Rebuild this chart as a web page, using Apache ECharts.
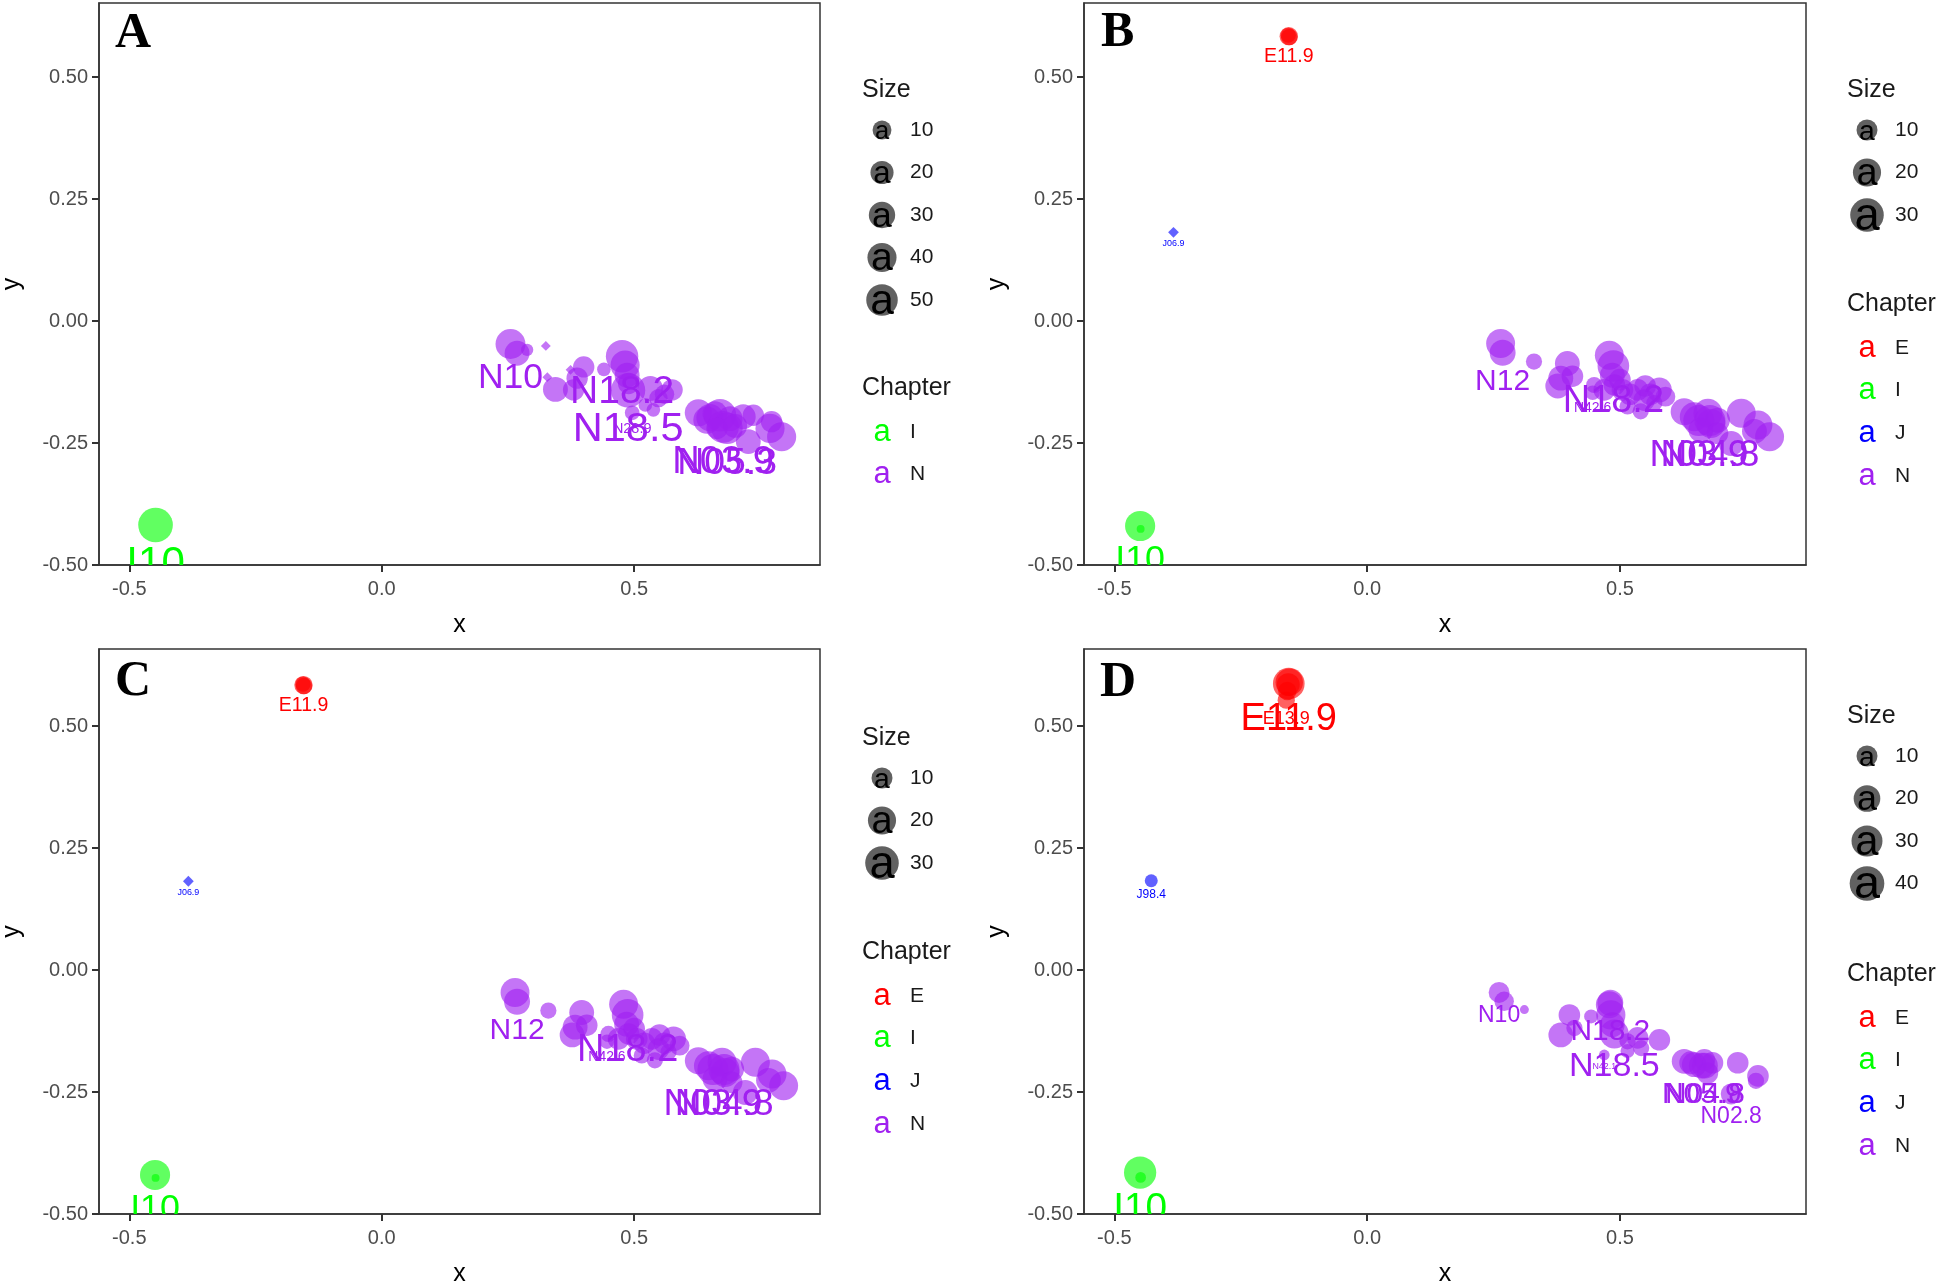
<!DOCTYPE html>
<html><head><meta charset="utf-8">
<script src="https://cdn.jsdelivr.net/npm/echarts@6/dist/echarts.min.js"></script>
<style>html,body{margin:0;padding:0;background:#fff;overflow:hidden}#c{width:1946px;height:1283px}</style>
</head><body><div id="c"></div>
<script>
// ---- data: [x, y, size, shape ('c' circle / 'd' diamond), label] ----
const A_I = [[-0.448,-0.418,60,'c','I10']];
const A_N = [
 [0.255,-0.047,40,'c','N10'],[0.268,-0.066,23,'c',''],[0.288,-0.059,1,'c',''],
 [0.325,-0.051,1,'d',''],[0.328,-0.115,1,'d',''],[0.344,-0.140,23,'c',''],
 [0.400,-0.094,14,'c',''],[0.374,-0.100,1,'d',''],[0.387,-0.117,14,'c',''],
 [0.380,-0.141,14,'c',''],[0.440,-0.099,2,'c',''],[0.476,-0.072,50,'c','N18.2'],
 [0.482,-0.090,37,'c',''],[0.486,-0.111,23,'c',''],[0.489,-0.128,14,'c',''],
 [0.488,-0.142,58,'c','N18.5'],[0.496,-0.188,3,'c','N28.9'],[0.532,-0.138,23,'c',''],
 [0.575,-0.141,14,'c',''],[0.548,-0.158,8,'c',''],[0.522,-0.172,2,'c',''],
 [0.538,-0.182,2,'c',''],[0.627,-0.188,30,'c',''],[0.644,-0.203,30,'c',''],
 [0.650,-0.198,30,'c',''],[0.660,-0.190,23,'c',''],[0.690,-0.200,23,'c',''],
 [0.670,-0.193,50,'c',''],[0.676,-0.217,47,'c','N03.9'],[0.684,-0.220,45,'c','N05.3'],
 [0.664,-0.220,14,'c',''],[0.716,-0.196,23,'c',''],[0.736,-0.193,14,'c',''],
 [0.726,-0.247,23,'c',''],[0.769,-0.220,37,'c',''],[0.792,-0.237,37,'c',''],
 [0.772,-0.206,14,'c',''],[0.560,-0.150,10,'c',''],[0.700,-0.215,20,'c','']
];
const B_E = [[-0.155,0.584,6.7,'c','E11.9'],[-0.156,0.586,4,'c',''],[-0.154,0.582,5,'c','']];
const B_I = [[-0.449,-0.420,22,'c','I10'],[-0.448,-0.426,0.5,'c','']];
const B_J = [[-0.383,0.182,2.9,'d','J06.9']];
const B_N = [
 [0.264,-0.046,20,'c',''],[0.268,-0.065,15.5,'c','N12'],[0.330,-0.083,4.8,'c',''],
 [0.396,-0.087,14,'c',''],[0.383,-0.117,14,'c',''],[0.377,-0.133,14,'c',''],
 [0.406,-0.113,10,'c',''],[0.449,-0.131,4.8,'c',''],[0.479,-0.070,20,'c',''],
 [0.487,-0.092,24.6,'c','N18.2'],[0.485,-0.111,14,'c',''],[0.489,-0.131,10,'c',''],
 [0.469,-0.141,10,'c',''],[0.446,-0.147,3.5,'c','N42.6'],[0.505,-0.141,10,'c',''],
 [0.535,-0.141,10,'c',''],[0.578,-0.141,14,'c',''],[0.548,-0.162,10,'c',''],
 [0.568,-0.168,4.8,'c',''],[0.515,-0.175,4.8,'c',''],[0.541,-0.185,4.8,'c',''],
 [0.520,-0.150,10,'c',''],[0.560,-0.150,10,'c',''],[0.550,-0.133,10,'c',''],
 [0.590,-0.155,8,'c',''],[0.500,-0.120,10,'c',''],
 [0.627,-0.186,17,'c',''],[0.647,-0.196,20,'c',''],[0.674,-0.189,20,'c',''],
 [0.680,-0.210,20,'c',''],[0.693,-0.203,14,'c',''],[0.660,-0.223,14,'c',''],
 [0.656,-0.204,23.5,'c','N03.9'],[0.678,-0.204,23.5,'c','N04.8'],[0.740,-0.189,20,'c',''],
 [0.720,-0.251,14,'c',''],[0.773,-0.213,20,'c',''],[0.796,-0.237,20,'c',''],
 [0.766,-0.226,14,'c',''],[0.693,-0.230,10,'c','']
];
const C_E = [[-0.155,0.584,6.7,'c','E11.9'],[-0.156,0.586,4,'c',''],[-0.154,0.582,5,'c','']];
const C_I = [[-0.449,-0.420,22,'c','I10'],[-0.448,-0.426,0.5,'c','']];
const C_J = [[-0.383,0.182,2.9,'d','J06.9']];
const C_N = B_N.map(p => p.slice());
const D_E = [[-0.155,0.587,29.5,'c','E11.9'],[-0.160,0.553,4.8,'c','E13.9'],[-0.158,0.572,6,'c',''],
 [-0.154,0.590,20,'c',''],[-0.156,0.585,12,'c','']];
const D_I = [[-0.449,-0.415,31,'c','I10'],[-0.448,-0.425,0.5,'c','']];
const D_J = [[-0.427,0.183,1.5,'c','J98.4']];
const D_N = [
 [0.261,-0.046,9,'c','N10'],[0.271,-0.064,7.2,'c',''],[0.311,-0.081,0.1,'c',''],
 [0.400,-0.092,10,'c',''],[0.383,-0.133,15,'c',''],[0.410,-0.119,3.8,'c',''],
 [0.443,-0.095,2.1,'c',''],[0.479,-0.071,19,'c',''],[0.481,-0.067,17,'c','N18.2'],
 [0.482,-0.092,23.7,'c',''],[0.485,-0.112,15,'c',''],[0.489,-0.131,23,'c','N18.5'],
 [0.515,-0.146,3.8,'c',''],[0.535,-0.139,10,'c',''],[0.578,-0.143,10,'c',''],
 [0.542,-0.160,3.8,'c',''],[0.515,-0.166,2.1,'c',''],[0.469,-0.174,0.5,'c','N42.1'],
 [0.627,-0.187,15,'c',''],[0.647,-0.194,15,'c',''],[0.667,-0.184,10,'c',''],
 [0.683,-0.190,10,'c',''],[0.673,-0.211,10,'c',''],[0.662,-0.196,17,'c','N05.9'],
 [0.668,-0.196,17,'c','N04.8'],[0.733,-0.190,10,'c',''],[0.773,-0.217,10,'c',''],
 [0.769,-0.227,3.8,'c',''],[0.720,-0.254,9,'c','N02.8'],[0.640,-0.190,12,'c','']
];
const A_sizeBreaks = [10,20,30,40,50];
const B_sizeBreaks = [10,20,30];
const C_sizeBreaks = [10,20,30];
const D_sizeBreaks = [10,20,30,40];
const xTicks = [-0.5, 0, 0.5];
const yTicks = [-0.5, -0.25, 0, 0.25, 0.5];
const chapterColors = {E:'#FF0000', I:'#00FF00', J:'#0000FF', N:'#A020F0'};

// ---- layout ----
const FONT = "'Liberation Sans', Arial, sans-serif";
const BUBBLE_SCALE = 1.08;
const panels = [
 {letter:'A', data:{I:A_I, N:A_N}, breaks:A_sizeBreaks, grid:{left:99,top:3,width:721,height:562}, ymax:0.652, sa:8.3, sb:3.07, leg:{x:862, sizeTitle:90, chapTitle:388}, lx:115, ly:34},
 {letter:'B', data:{E:B_E, I:B_I, J:B_J, N:B_N}, breaks:B_sizeBreaks, grid:{left:1084,top:3,width:722,height:562}, ymax:0.652, sa:3.65, sb:5.17, leg:{x:1847, sizeTitle:90, chapTitle:304}, lx:1101, ly:33},
 {letter:'C', data:{E:C_E, I:C_I, J:C_J, N:C_N}, breaks:C_sizeBreaks, grid:{left:99,top:649,width:721,height:565}, ymax:0.658, sa:3.65, sb:5.17, leg:{x:862, sizeTitle:738, chapTitle:952}, lx:115, ly:682},
 {letter:'D', data:{E:D_E, I:D_I, J:D_J, N:D_N}, breaks:D_sizeBreaks, grid:{left:1084,top:649,width:722,height:565}, ymax:0.658, sa:7, sb:4.11, leg:{x:1847, sizeTitle:716, chapTitle:974}, lx:1100, ly:683}
];
function diam(p, s) { return p.sa + p.sb * Math.sqrt(s); }
function labelFont(d) { return Math.max(6, 1.5 * d - 6); }

const option = {animation:false, backgroundColor:'#fff', grid:[], xAxis:[], yAxis:[], series:[], graphic:[]};
const axisLineStyle = {color:'#333', width:1.5};
const tickStyle = {color:'#333', width:2};

panels.forEach((p, i) => {
  option.grid.push(Object.assign({show:true, borderColor:'#333', borderWidth:1.5, backgroundColor:'#fff', containLabel:false, outerBoundsMode:'none'}, p.grid));
  option.xAxis.push({gridIndex:i, type:'value', min:-0.56, max:0.868,
    name:'x', nameLocation:'middle', nameGap:48, nameTextStyle:{fontSize:25, color:'#000', fontFamily:FONT},
    axisLine:{show:true, onZero:false, lineStyle:axisLineStyle}, splitLine:{show:false},
    axisTick:{show:true, inside:false, length:7, customValues:xTicks, lineStyle:tickStyle},
    axisLabel:{customValues:xTicks, formatter:v=>Number(v).toFixed(1), fontSize:20, color:'#4D4D4D', margin:14, fontFamily:FONT}});
  option.yAxis.push({gridIndex:i, type:'value', min:-0.5, max:p.ymax,
    name:'y', nameLocation:'middle', nameGap:74, nameTextStyle:{fontSize:25, color:'#000', fontFamily:FONT},
    axisLine:{show:true, onZero:false, lineStyle:axisLineStyle}, splitLine:{show:false},
    axisTick:{show:true, inside:false, length:7, customValues:yTicks, lineStyle:tickStyle},
    axisLabel:{customValues:yTicks, formatter:v=>Number(v).toFixed(2), fontSize:20, color:'#4D4D4D', margin:11, fontFamily:FONT}});

  Object.keys(p.data).forEach(ch => {
    const arr = p.data[ch];
    // bubbles
    option.series.push({type:'scatter', xAxisIndex:i, yAxisIndex:i, z:3, silent:true,
      data: arr.map(r => [r[0], r[1], r[2], r[3]==='d'?1:0]),
      symbol: v => v[3] ? 'diamond' : 'circle',
      symbolSize: v => diam(p, v[2]) * (v[3] ? 0.8 : 1) * BUBBLE_SCALE,
      itemStyle:{color:chapterColors[ch], opacity:0.62}, emphasis:{disabled:true}});
    // labels (drawn beneath bubbles, clipped to panel)
    const lab = arr.filter(r => r[4]);
    if (lab.length) {
      const names = lab.map(r => r[4]);
      option.series.push({type:'custom', xAxisIndex:i, yAxisIndex:i, z:2, clip:true, silent:true,
        data: lab.map(r => [r[0], r[1], r[2], r[3]==='d'?1:0]),
        encode:{x:0, y:1},
        renderItem:(params, api) => {
          const pt = api.coord([api.value(0), api.value(1)]);
          const d = diam(p, api.value(2)) * (api.value(3) ? 0.8 : 1);
          return {type:'text', x:pt[0], y:pt[1] + d/2 + 2,
            style:{text:names[params.dataIndex], fill:chapterColors[ch], fontSize:labelFont(d), fontFamily:FONT, align:'center', verticalAlign:'top'}};
        }});
    }
  });

  // panel letter
  option.graphic.push({type:'text', x:p.lx, y:p.ly, z:10, style:{text:p.letter, font:'bold 50px "Liberation Serif", "Times New Roman", serif', fill:'#000', verticalAlign:'middle'}});
  // legends
  const L = p.leg;
  option.graphic.push({type:'text', x:L.x, y:L.sizeTitle, style:{text:'Size', fontSize:25, fontFamily:FONT, fill:'#1a1a1a', verticalAlign:'middle'}});
  p.breaks.forEach((b, k) => {
    const y = L.sizeTitle + 40 + k * 42.5;
    const d = diam(p, b) * 1.05;
    option.graphic.push({type:'circle', shape:{cx:L.x + 20, cy:y, r:d/2}, style:{fill:'rgba(0,0,0,0.62)'}});
    option.graphic.push({type:'text', x:L.x + 20, y:y + 2, style:{text:'a', fontSize:1.35*d, fontFamily:FONT, fill:'#000', align:'center', verticalAlign:'middle'}});
    option.graphic.push({type:'text', x:L.x + 48, y:y, style:{text:String(b), fontSize:21, fontFamily:FONT, fill:'#1a1a1a', verticalAlign:'middle'}});
  });
  option.graphic.push({type:'text', x:L.x, y:L.chapTitle, style:{text:'Chapter', fontSize:25, fontFamily:FONT, fill:'#1a1a1a', verticalAlign:'middle'}});
  Object.keys(p.data).forEach((ch, k) => {
    const y = L.chapTitle + 44 + k * 42.7;
    option.graphic.push({type:'text', x:L.x + 20, y:y, style:{text:'a', fontSize:31, fontFamily:FONT, fill:chapterColors[ch], align:'center', verticalAlign:'middle'}});
    option.graphic.push({type:'text', x:L.x + 48, y:y, style:{text:ch, fontSize:21, fontFamily:FONT, fill:'#1a1a1a', verticalAlign:'middle'}});
  });
});

const chart = echarts.init(document.getElementById('c'), null, {renderer:'canvas'});
chart.setOption(option);
</script></body></html>
